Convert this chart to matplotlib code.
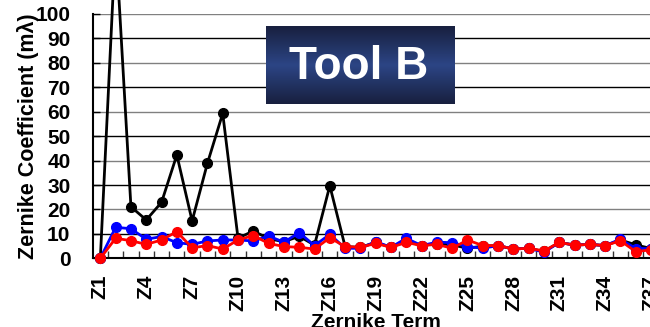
import matplotlib
matplotlib.use("Agg")
import matplotlib.pyplot as plt
import numpy as np
from matplotlib.colors import LinearSegmentedColormap

plt.rcParams['font.family'] = ['Liberation Sans', 'DejaVu Sans']
plt.rcParams['font.weight'] = 'bold'

# Zernike terms Z1..Z37
terms = ["Z%d" % i for i in range(1, 38)]

black_vals = [0, 130, 21.1, 15.7, 22.9, 42.3, 15.3, 38.9, 59.3, 8.2,
              11.2, 8.0, 6.8, 9.0, 5.4, 29.7, 4.8, 4.5, 6.5, 4.5,
              7.0, 5.2, 6.0, 5.5, 4.1, 5.0, 5.2, 3.8, 4.1, 2.8,
              6.5, 5.4, 5.7, 5.2, 7.5, 5.5, 4.0]
blue_vals = [0, 12.7, 12.1, 7.8, 8.9, 6.4, 5.7, 7.1, 7.5, 7.5,
             7.1, 9.1, 6.6, 10.5, 5.2, 9.8, 4.1, 4.1, 6.8, 4.5,
             8.2, 5.2, 6.6, 6.4, 4.8, 4.1, 5.2, 3.8, 4.1, 2.5,
             6.5, 5.4, 5.7, 5.2, 7.8, 4.0, 4.0]
red_vals = [0, 8.2, 7.2, 5.7, 7.5, 10.9, 4.3, 5.2, 3.8, 7.5,
            9.3, 6.1, 4.8, 4.5, 3.8, 8.4, 4.8, 4.5, 6.1, 4.5,
            6.5, 5.2, 5.7, 4.1, 7.5, 5.2, 5.2, 3.8, 4.1, 3.0,
            6.5, 5.4, 5.7, 5.2, 7.2, 2.7, 3.5]

fig = plt.figure(figsize=(6.5, 3.27), dpi=100)
ax = fig.add_axes([0.1426, 0.2101, 0.8708, 0.7471])

x = np.arange(len(terms))

# gridlines, alternating shade like the original
for v in range(10, 101, 10):
    col = '#808080' if v % 20 == 0 else '#000000'
    ax.axhline(v, color=col, lw=1.0, zorder=1)

ax.plot(x, black_vals, color='black', marker='o', ms=7, lw=2, zorder=3, clip_on=False)
ax.plot(x, blue_vals, color='#0000ff', marker='o', ms=7, lw=2, zorder=4, clip_on=False)
ax.plot(x, red_vals, color='#ff0000', marker='o', ms=7, lw=2, zorder=5, clip_on=False)

ax.set_xlim(-0.5, len(terms) - 0.5)
ax.set_ylim(0, 100)
ax.set_yticks(range(0, 101, 10))
ax.tick_params(axis='y', direction='in', length=5, width=1, pad=16, labelsize=15)

ax.set_xticks(x[::3])
ax.set_xticklabels(terms[::3], rotation=90, fontsize=15, fontweight='bold')
ax.set_xticks(x[:-1] + 0.5, minor=True)
ax.tick_params(axis='x', which='major', length=0, pad=12)
ax.tick_params(axis='x', which='minor', direction='in', length=5, width=1, color='#333333')

for s in ['top', 'right']:
    ax.spines[s].set_visible(False)
ax.spines['left'].set_linewidth(1.5)
ax.spines['bottom'].set_linewidth(1.5)

fig.text(0.043, 0.584, "Zernike Coefficient (m\u03bb)", rotation=90, ha='center', va='center',
         fontsize=15.5, fontweight='bold')
fig.text(0.579, 0.044, "Zernike Term", ha='center', va='top', fontsize=15, fontweight='bold')

# "Tool B" badge with a vertical gradient
bax = fig.add_axes([266 / 650, 1 - 104 / 327, 189 / 650, 78 / 327])
cmap = LinearSegmentedColormap.from_list('navy', ['#18203f', '#2c4585', '#18203f'])
grad = np.linspace(0, 1, 100).reshape(-1, 1)
bax.imshow(grad, aspect='auto', cmap=cmap, extent=[0, 1, 0, 1])
bax.set_axis_off()
bax.text(0.49, 0.48, "Tool B", color='white', fontsize=33, fontweight='bold',
         ha='center', va='center', transform=bax.transAxes)

fig.savefig("out.png", dpi=100)
